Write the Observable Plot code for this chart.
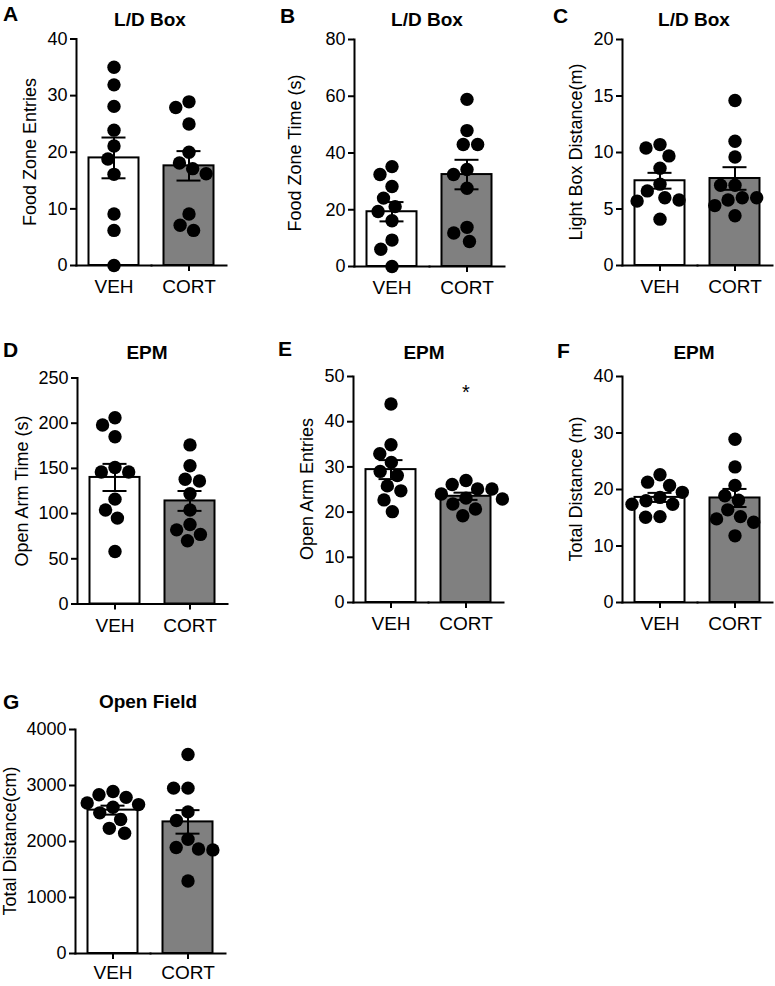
<!DOCTYPE html>
<html><head><meta charset="utf-8">
<script src="https://cdn.jsdelivr.net/npm/d3@7"></script>
<script src="https://cdn.jsdelivr.net/npm/@observablehq/plot@0.6"></script>
<style>
html,body{margin:0;padding:0;background:#fff;}
#fig{position:relative;width:775px;height:986px;font-family:"Liberation Sans",Arial,sans-serif;color:#000;}
.lab{position:absolute;white-space:nowrap;line-height:1;}
.letter{font-weight:bold;font-size:21px;}
.title{font-weight:bold;font-size:19px;transform:translateX(-50%);}
.ylab{font-size:18px;transform:translate(-50%,-50%) rotate(-90deg);}
.panel{position:absolute;}
.panel svg{overflow:visible;}
</style></head><body><div id="fig"></div><script>
// ---------- data ----------
const groups = ["VEH", "CORT"];
const barColors = ["white", "#808080"];

const panelLetters = ["A", "B", "C", "D", "E", "F", "G"];
const panelTitles = ["L/D Box", "L/D Box", "L/D Box", "EPM", "EPM", "EPM", "Open Field"];
const yLabels = ["Food Zone Entries", "Food Zone Time (s)", "Light Box Distance(m)",
  "Open Arm Time (s)", "Open Arm Entries", "Total Distance (m)", "Total Distance(cm)"];

// A: L/D Box food zone entries
const foodEntriesVEH = [35.0, 31.9, 28.1, 23.9, 21.1, 18.8, 16.1, 9.1, 6.2, 0];
const foodEntriesCORT = [28.9, 27.9, 25.0, 20.0, 18.1, 17.1, 16.2, 9.1, 7.1, 6.2];
const foodEntriesMean = [19.0, 17.6];
const foodEntriesSEM = [3.6, 2.6];
const foodEntriesTicks = [0, 10, 20, 30, 40];

// B: L/D Box food zone time
const foodTimeVEH = [35.2, 32.4, 28.2, 24.1, 21.1, 19.4, 16.1, 9.3, 6.1, 0];
const foodTimeCORT = [58.9, 47.9, 43.0, 43.0, 34.2, 32.4, 27.6, 13.8, 11.8, 8.8];
const foodTimeMean = [19.3, 32.4];
const foodTimeSEM = [3.4, 5.2];
const foodTimeTicks = [0, 20, 40, 60, 80];

// C: L/D Box light box distance
const lightDistVEH = [10.7, 10.4, 9.7, 8.6, 7.2, 6.6, 6.0, 5.8, 5.7, 4.1];
const lightDistCORT = [14.6, 11.0, 9.6, 7.1, 7.1, 6.0, 6.0, 5.8, 5.3, 4.4];
const lightDistMean = [7.5, 7.7];
const lightDistSEM = [0.7, 1.0];
const lightDistTicks = [0, 5, 10, 15, 20];

// D: EPM open arm time
const armTimeVEH = [206, 198, 185, 151, 146, 146, 116, 104, 95, 58];
const armTimeCORT = [176, 153, 138, 136, 122, 104, 88, 82, 77, 70];
const armTimeMean = [140, 114];
const armTimeSEM = [15, 11];
const armTimeTicks = [0, 50, 100, 150, 200, 250];

// E: EPM open arm entries
const armEntriesVEH = [43.9, 34.9, 32.9, 31.0, 29.0, 28.1, 25.8, 24.7, 22.7, 20.1];
const armEntriesCORT = [27.0, 26.1, 25.1, 25.1, 24.0, 23.1, 22.9, 21.8, 20.7, 19.2];
const armEntriesMean = [29.4, 23.5];
const armEntriesSEM = [2.1, 0.8];
const armEntriesTicks = [0, 10, 20, 30, 40, 50];
const armEntriesSignificance = [{group: "CORT", mark: "*"}];

// F: EPM total distance
const epmDistVEH = [22.6, 21.3, 20.7, 19.5, 18.6, 18.0, 17.4, 17.4, 15.2, 15.1];
const epmDistCORT = [28.9, 24.0, 20.7, 18.9, 18.1, 16.4, 15.2, 14.8, 14.2, 11.8];
const epmDistMean = [18.6, 18.5];
const epmDistSEM = [0.8, 1.6];
const epmDistTicks = [0, 10, 20, 30, 40];

// G: Open field total distance
const ofDistVEH = [2894, 2835, 2788, 2688, 2659, 2612, 2512, 2394, 2235, 2147];
const ofDistCORT = [3553, 2953, 2953, 2529, 2376, 2041, 1894, 1865, 1850, 1294];
const ofDistMean = [2560, 2350];
const ofDistSEM = [80, 210];
const ofDistTicks = [0, 1000, 2000, 3000, 4000];

const panelData = [
  {vals: [foodEntriesVEH, foodEntriesCORT], mean: foodEntriesMean, sem: foodEntriesSEM, ticks: foodEntriesTicks},
  {vals: [foodTimeVEH, foodTimeCORT], mean: foodTimeMean, sem: foodTimeSEM, ticks: foodTimeTicks},
  {vals: [lightDistVEH, lightDistCORT], mean: lightDistMean, sem: lightDistSEM, ticks: lightDistTicks},
  {vals: [armTimeVEH, armTimeCORT], mean: armTimeMean, sem: armTimeSEM, ticks: armTimeTicks},
  {vals: [armEntriesVEH, armEntriesCORT], mean: armEntriesMean, sem: armEntriesSEM, ticks: armEntriesTicks, sig: armEntriesSignificance},
  {vals: [epmDistVEH, epmDistCORT], mean: epmDistMean, sem: epmDistSEM, ticks: epmDistTicks},
  {vals: [ofDistVEH, ofDistCORT], mean: ofDistMean, sem: ofDistSEM, ticks: ofDistTicks}
];

// ---------- layout ----------
const FACETS_W = 150;
const layout = [
  {left: 0,   top: 0,   w: 255, h: 300, ml: 76,    mt: 38.5, mb: 35,   pad: 8, titleX: 150, titleCap: 12, letterX: 3,   letterCap: 6,   ylabX: 29.5},
  {left: 255, top: 0,   w: 255, h: 300, ml: 98.5,  mt: 39,   mb: 34,   pad: 8, titleX: 427, titleCap: 12, letterX: 280, letterCap: 8,   ylabX: 295},
  {left: 510, top: 0,   w: 265, h: 300, ml: 111.5, mt: 39,   mb: 35,   pad: 8, titleX: 694, titleCap: 12, letterX: 553, letterCap: 8,   ylabX: 576},
  {left: 0,   top: 330, w: 255, h: 310, ml: 76.5,  mt: 47.5, mb: 36.5, pad: 8, titleX: 147, titleCap: 345, letterX: 3,   letterCap: 342, ylabX: 21.5},
  {left: 255, top: 330, w: 255, h: 310, ml: 97.5,  mt: 46,   mb: 38,   pad: 8, titleX: 424, titleCap: 345, letterX: 278, letterCap: 341, ylabX: 307},
  {left: 510, top: 330, w: 265, h: 310, ml: 111.5, mt: 46,   mb: 38,   pad: 8, titleX: 694, titleCap: 345, letterX: 557, letterCap: 343, ylabX: 576},
  {left: 0,   top: 680, w: 255, h: 306, ml: 75,    mt: 49,   mb: 33,   pad: 6, titleX: 148, titleCap: 694, letterX: 3,   letterCap: 694, ylabX: 9.5}
];

const FONT = '"Liberation Sans", Arial, sans-serif';
const fig = document.getElementById("fig");

function addLabel(cls, text, left, top) {
  const d = document.createElement("div");
  d.className = "lab " + cls;
  d.textContent = text;
  d.style.left = left + "px";
  d.style.top = top + "px";
  fig.appendChild(d);
}

panelData.forEach((pd, k) => {
  const L = layout[k];
  const points = groups.flatMap((g, i) => pd.vals[i].map(v => ({group: g, value: v})));
  const summary = groups.map((g, i) => ({group: g, mean: pd.mean[i], sem: pd.sem[i]}));
  const ymax = pd.ticks[pd.ticks.length - 1];
  const marks = [
    Plot.barY(summary, {fx: "group", y: "mean", fill: "group", stroke: "black", strokeWidth: 2, insetLeft: 12.5, insetRight: 12.5}),
    Plot.ruleX(summary, {fx: "group", x: null, y1: d => d.mean - d.sem, y2: d => d.mean + d.sem, stroke: "black", strokeWidth: 2}),
    Plot.tickY(summary, {fx: "group", y: d => d.mean + d.sem, insetLeft: 25.5, insetRight: 25.5, stroke: "black", strokeWidth: 2}),
    Plot.tickY(summary, {fx: "group", y: d => d.mean - d.sem, insetLeft: 25.5, insetRight: 25.5, stroke: "black", strokeWidth: 2}),
    Plot.dot(points, Plot.dodgeX("middle", {fx: "group", y: "value", r: 6.7, fill: "black", stroke: "none", padding: -0.5})),
    Plot.frame({anchor: "bottom", stroke: "black", strokeWidth: 2}),
    Plot.frame({anchor: "left", stroke: "black", strokeWidth: 2, facetAnchor: "left"}),
    Plot.axisY({ticks: pd.ticks, tickFormat: d3.format("d"), tickSize: 6, tickPadding: 3, strokeWidth: 2, fontSize: 18, label: null}),
    Plot.axisFx({anchor: "bottom", tickSize: 6, tickPadding: L.pad, strokeWidth: 2, fontSize: 19, label: null})
  ];
  if (pd.sig) {
    marks.push(Plot.text(pd.sig, {fx: "group", text: "mark", frameAnchor: "top", dy: 8, fontSize: 20, fontWeight: "normal"}));
  }
  const chart = Plot.plot({
    width: L.w, height: L.h,
    marginLeft: L.ml, marginRight: L.w - L.ml - FACETS_W,
    marginTop: L.mt, marginBottom: L.mb,
    style: {fontFamily: FONT, fontSize: "18px", color: "black", background: "transparent", overflow: "visible"},
    fx: {domain: groups, padding: 0, label: null},
    y: {domain: [0, ymax], label: null},
    color: {domain: groups, range: barColors},
    marks
  });
  const wrap = document.createElement("div");
  wrap.className = "panel";
  wrap.style.left = L.left + "px";
  wrap.style.top = L.top + "px";
  wrap.appendChild(chart);
  fig.appendChild(wrap);

  addLabel("letter", panelLetters[k], L.letterX, L.letterCap - 0.13 * 21);
  addLabel("title", panelTitles[k], L.titleX, L.titleCap - 0.13 * 19);
  const midY = L.top + L.mt + (L.h - L.mt - L.mb) / 2;
  addLabel("ylab", yLabels[k], L.ylabX, midY);
});
</script></body></html>
